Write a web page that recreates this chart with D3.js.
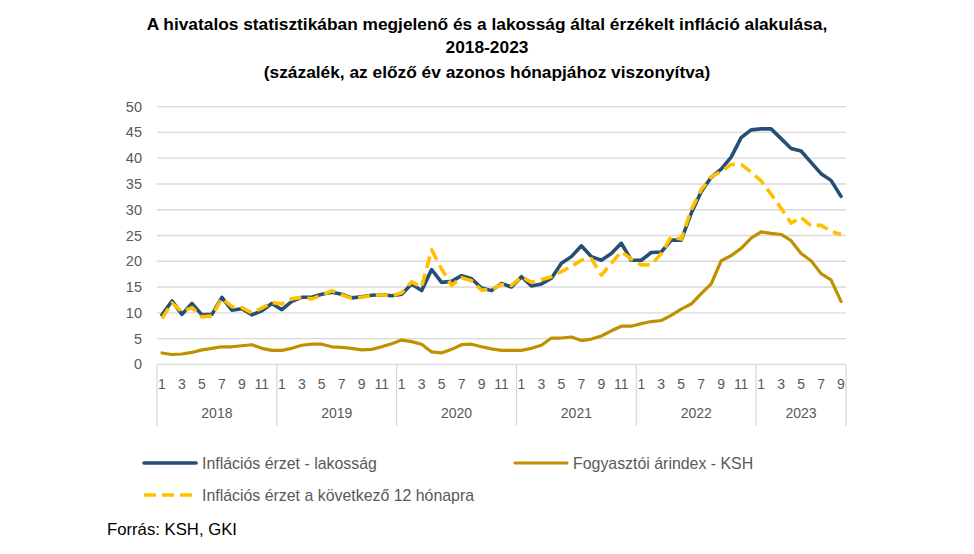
<!DOCTYPE html>
<html><head><meta charset="utf-8">
<script src="https://cdn.jsdelivr.net/npm/d3@7"></script>
<style>body{margin:0;background:#fff} svg{display:block}</style>
</head><body><svg id="c" width="974" height="554"></svg>
<script>
// ---- data ----
const years = [2018, 2019, 2020, 2021, 2022, 2023];
const monthsPerYear = [12, 12, 12, 12, 12, 9];
const monthTickLabels = [1, 3, 5, 7, 9, 11];
const yTicks = [0, 5, 10, 15, 20, 25, 30, 35, 40, 45, 50];
const seriesNames = ["Inflációs érzet - lakosság", "Fogyasztói árindex - KSH", "Inflációs érzet a következő 12 hónapra"];
const perceived = [
  9.6, 12.3, 9.7, 11.8, 9.6, 9.7, 13.0, 10.5, 10.8, 9.6, 10.4, 11.8,
  10.6, 12.2, 13.0, 13.0, 13.6, 14.0, 13.6, 12.9, 13.1, 13.4, 13.5, 13.3,
  13.6, 15.6, 14.3, 18.4, 15.9, 16.1, 17.2, 16.6, 14.8, 14.3, 15.7, 15.0,
  17.0, 15.2, 15.6, 16.7, 19.6, 20.9, 23.0, 20.9, 20.2, 21.5, 23.5, 20.2,
  20.2, 21.7, 21.8, 24.1, 24.1, 29.3, 33.5, 36.3, 37.9, 40.2, 44.0, 45.5,
  45.7, 45.7, 43.8, 41.9, 41.4, 39.2, 37.0, 35.7, 32.6];
const cpi = [
  2.2, 1.9, 2.0, 2.3, 2.8, 3.1, 3.4, 3.4, 3.6, 3.8, 3.1, 2.7,
  2.7, 3.1, 3.7, 3.9, 3.9, 3.4, 3.3, 3.1, 2.8, 2.9, 3.4, 4.0,
  4.7, 4.4, 3.9, 2.4, 2.2, 2.9, 3.8, 3.9, 3.4, 3.0, 2.7, 2.7,
  2.7, 3.1, 3.7, 5.1, 5.1, 5.3, 4.6, 4.9, 5.5, 6.5, 7.4, 7.4,
  7.9, 8.3, 8.5, 9.5, 10.7, 11.7, 13.7, 15.6, 20.1, 21.1, 22.5, 24.5,
  25.7, 25.4, 25.2, 24.0, 21.5, 20.1, 17.6, 16.4, 12.2];
const expected = [
  8.9, 11.9, 10.2, 11.0, 9.2, 9.4, 12.8, 11.2, 11.0, 10.0, 10.9, 12.0,
  11.7, 12.7, 13.0, 12.7, 13.4, 14.3, 13.5, 12.8, 13.0, 13.4, 13.5, 13.3,
  13.9, 16.0, 15.0, 22.2, 18.5, 15.3, 16.8, 16.2, 14.4, 14.5, 15.5, 15.3,
  17.0, 15.9, 16.4, 17.0, 18.0, 19.0, 20.2, 20.5, 17.3, 19.6, 21.9, 20.4,
  19.3, 19.3, 21.5, 24.8, 24.3, 30.0, 33.9, 36.4, 37.4, 38.8, 38.8, 37.3,
  35.6, 33.0, 30.3, 27.4, 28.5, 26.9, 27.0, 25.8, 25.2];

// ---- build categories ----
const cats = [];
years.forEach((y, yi) => { for (let m = 1; m <= monthsPerYear[yi]; m++) cats.push({ year: y, month: m, key: y + "-" + m }); });

const svg = d3.select("#c");
const FONT = "'Liberation Sans', Arial, sans-serif";
const NARROW = "'Liberation Sans Narrow', 'Arial Narrow', 'Liberation Sans', Arial, sans-serif";
const plot = { left: 157, right: 846, top: 106.7, bottom: 364.3 };

const x = d3.scaleBand().domain(cats.map(d => d.key)).range([plot.left, plot.right]).padding(0);
const y = d3.scaleLinear().domain([0, 50]).range([plot.bottom, plot.top]);
const cx = i => x(cats[i].key) + x.bandwidth() / 2;

// gridlines
svg.append("g").selectAll("line").data(yTicks).join("line")
  .attr("x1", plot.left).attr("x2", plot.right)
  .attr("y1", d => y(d)).attr("y2", d => y(d))
  .attr("stroke", "#d9d9d9").attr("stroke-width", 1.3);

// y axis labels
svg.append("g").selectAll("text").data(yTicks).join("text")
  .attr("x", 142).attr("y", d => y(d) + 5)
  .attr("text-anchor", "end").attr("fill", "#595959")
  .style("font-family", FONT).style("font-size", "14.5px")
  .text(d => d);

// year dividers (category axis)
const yearStarts = [];
let acc = 0;
years.forEach((yr, yi) => { yearStarts.push({ year: yr, start: acc, end: acc + monthsPerYear[yi] - 1 }); acc += monthsPerYear[yi]; });
const divX = yearStarts.map(d => x(cats[d.start].key)).concat([plot.right]);
svg.append("g").selectAll("line").data(divX).join("line")
  .attr("x1", d => d).attr("x2", d => d)
  .attr("y1", plot.bottom).attr("y2", 426)
  .attr("stroke", "#d9d9d9").attr("stroke-width", 1.3);

// month tick labels
svg.append("g").selectAll("text").data(cats.map((d, i) => ({ d, i })).filter(o => monthTickLabels.includes(o.d.month))).join("text")
  .attr("x", o => cx(o.i)).attr("y", 389)
  .attr("text-anchor", "middle").attr("fill", "#595959")
  .style("font-family", FONT).style("font-size", "14px")
  .text(o => o.d.month);

// year labels
svg.append("g").selectAll("text").data(yearStarts).join("text")
  .attr("x", d => (x(cats[d.start].key) + x(cats[d.end].key) + x.bandwidth()) / 2).attr("y", 418)
  .attr("text-anchor", "middle").attr("fill", "#595959")
  .style("font-family", FONT).style("font-size", "14px")
  .text(d => d.year);

// lines
const line = d3.line().x((d, i) => cx(i)).y(d => y(d)).curve(d3.curveLinear);
const styles = [
  { data: perceived, color: "#264f78", width: 3.6, dash: null },
  { data: cpi, color: "#bf9000", width: 3.2, dash: null },
  { data: expected, color: "#ffc000", width: 3.6, dash: "12,6" }
];
styles.forEach(s => {
  svg.append("path").datum(s.data).attr("d", line)
    .attr("fill", "none").attr("stroke", s.color).attr("stroke-width", s.width)
    .attr("stroke-linejoin", "round").attr("stroke-linecap", s.dash ? "butt" : "round")
    .attr("stroke-dasharray", s.dash);
});

// title
const titleLines = [
  "A hivatalos statisztikában megjelenő és a lakosság által érzékelt infláció alakulása,",
  "2018-2023",
  "(százalék, az előző év azonos hónapjához viszonyítva)"
];
const tl = svg.append("g").selectAll("text").data(titleLines).join("text")
  .attr("x", 487).attr("y", (d, i) => [30, 53, 78][i])
  .attr("text-anchor", "middle").attr("fill", "#000")
  .style("font-family", NARROW).style("font-weight", "bold").style("font-size", "16px")
  .text(d => d);
// fit first title line to reference width
const w0 = tl.nodes()[0].getComputedTextLength();
tl.style("font-size", (16 * 681 / w0) + "px");

// legend
const legendItems = [
  { name: seriesNames[0], s: styles[0], lx: 144, ly: 463 },
  { name: seriesNames[1], s: styles[1], lx: 515, ly: 463 },
  { name: seriesNames[2], s: styles[2], lx: 144, ly: 495 }
];
const lg = svg.append("g");
legendItems.forEach(it => {
  lg.append("line").attr("x1", it.lx).attr("x2", it.lx + 52).attr("y1", it.ly).attr("y2", it.ly)
    .attr("stroke", it.s.color).attr("stroke-width", it.s.width)
    .attr("stroke-linecap", it.s.dash ? "butt" : "round").attr("stroke-dasharray", it.s.dash);
});
const lt = lg.selectAll("text").data(legendItems).join("text")
  .attr("x", d => d.lx + 58).attr("y", d => d.ly + 6)
  .attr("fill", "#595959")
  .style("font-family", NARROW).style("font-size", "16px")
  .text(d => d.name);
const lw = lt.nodes()[0].getComputedTextLength();
lt.style("font-size", (16 * 175 / lw) + "px");

// source
const src = svg.append("text").attr("x", 107).attr("y", 535).attr("fill", "#000")
  .style("font-family", NARROW).style("font-size", "16px").text("Forrás: KSH, GKI");
const sw = src.node().getComputedTextLength();
src.style("font-size", (16 * 130 / sw) + "px");
</script>
</body></html>
